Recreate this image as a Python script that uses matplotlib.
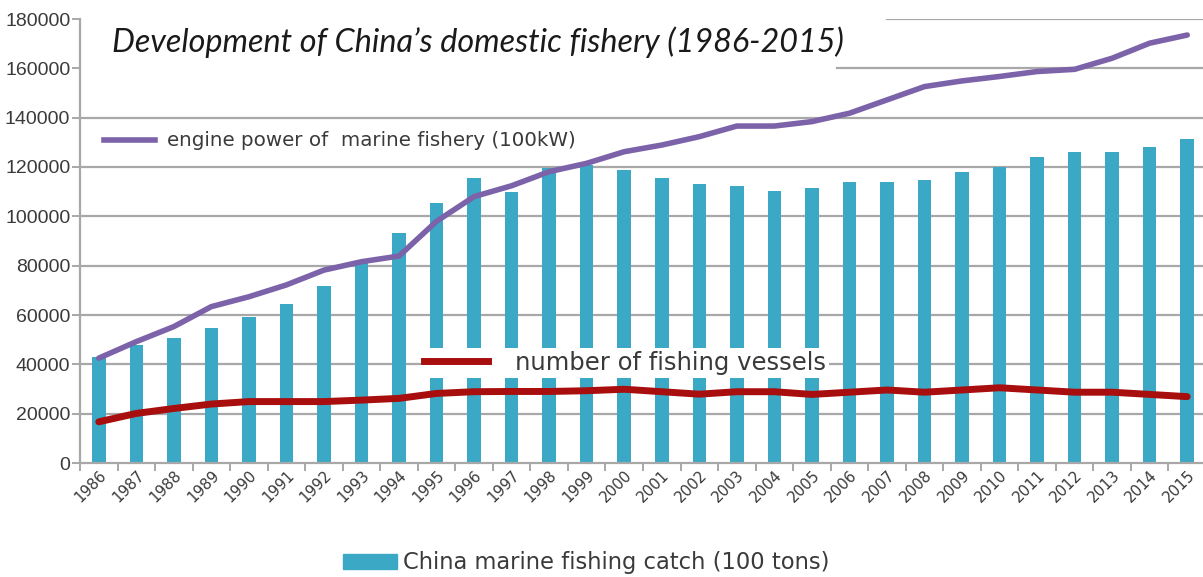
import matplotlib.pyplot as plt
from matplotlib.lines import Line2D
from matplotlib.patches import Patch
import numpy as np

# China domestic fishery, 1986-2015
years = [str(y) for y in range(1986, 2016)]

catch_100t = [43100, 48000, 50800, 54900, 59000, 64300, 71700, 80900, 93100, 105500,
              115400, 109700, 119500, 120800, 118800, 115400, 113100, 112400, 110400, 111400,
              113800, 113800, 114600, 117900, 120100, 123900, 126200, 126200, 128000, 131300]

engine_100kw = [42500, 49200, 55300, 63400, 67400, 72200, 78200, 81600, 83900, 98000,
                108000, 112400, 118100, 121500, 126200, 128900, 132300, 136600, 136600, 138400,
                141800, 147200, 152600, 154900, 156700, 158700, 159600, 164100, 170200, 173500]

vessels = [16700, 20100, 22100, 23900, 24900, 24900, 24900, 25500, 26200, 28200,
           28900, 29000, 29000, 29300, 29900, 28900, 27900, 28900, 28900, 27800,
           28700, 29600, 28700, 29600, 30500, 29600, 28700, 28700, 27800, 26900]

yticks = [0, 20000, 40000, 60000, 80000, 100000, 120000, 140000, 160000, 180000]

bar_color = '#3ba9c6'
engine_color = '#7b62a9'
vessel_color = '#a80e0e'
grid_color = '#a8a8a8'
text_color = '#3a3a3a'

W, H = 1203, 577
fig = plt.figure(figsize=(W / 100, H / 100), dpi=100)
ax = fig.add_axes([80 / W, 1 - 463 / H, 1126 / W, 444 / H])

x = np.arange(len(years))
ax.bar(x, catch_100t, width=0.36, color=bar_color, zorder=2)
ax.plot(x, engine_100kw, color=engine_color, lw=4, solid_capstyle='round', zorder=3)
ax.plot(x, vessels, color=vessel_color, lw=5, solid_capstyle='round', zorder=3)

ax.set_xlim(-0.5, len(years) - 0.5)
ax.set_ylim(0, 180000)

# horizontal grid; the two top lines are cut short behind the heading
grid_start = {160000: 0.672, 180000: 0.717}
for v in yticks[1:]:
    ax.axhline(v, xmin=grid_start.get(v, 0), xmax=1, color=grid_color, lw=1.6, zorder=1)

ax.set_yticks(yticks)
ax.set_yticklabels([str(v) for v in yticks], fontsize=14, color=text_color,
                   family=['Liberation Sans', 'DejaVu Sans'])
ax.tick_params(axis='y', length=6, width=1.4, color=grid_color, pad=1)

# category labels centred, tick marks on the category boundaries
ax.set_xticks(x)
ax.set_xticklabels(years, rotation=45, ha='right', rotation_mode='anchor',
                   fontsize=10.8, color=text_color)
ax.set_xticks(np.arange(-0.5, len(years), 1.0), minor=True)
ax.tick_params(axis='x', which='major', length=0, pad=3)
ax.tick_params(axis='x', which='minor', length=6, width=1.4, color=grid_color)

for side in ['top', 'right']:
    ax.spines[side].set_visible(False)
for side in ['left', 'bottom']:
    ax.spines[side].set_color(grid_color)
    ax.spines[side].set_linewidth(1.6)

# heading: narrow italic, sized so it runs from x=112 to about x=845
title = fig.text(112 / W, 1 - 52 / H, 'Development of China\u2019s domestic fishery (1986-2015)',
                 fontsize=25, style='italic', color='#1a1a1a', va='baseline', ha='left',
                 family=['Lato', 'DejaVu Sans'])
renderer = fig.canvas.get_renderer()
tw = title.get_window_extent(renderer).width
title.set_fontsize(25 * 733 / tw)

leg_engine = fig.legend(handles=[Line2D([], [], color=engine_color, lw=4)],
                        labels=['engine power of  marine fishery (100kW)'],
                        loc='center left', bbox_to_anchor=(104 / W, 1 - 141 / H),
                        frameon=False, fontsize=14.3, borderpad=0, borderaxespad=0,
                        handlelength=2.55, handletextpad=0.6, labelcolor=text_color)

leg_vessels = fig.legend(handles=[Line2D([], [], color=vessel_color, lw=5)],
                         labels=['number of fishing vessels'],
                         loc='center left', bbox_to_anchor=(421 / W, 1 - 363 / H),
                         frameon=True, fancybox=False, facecolor='white', edgecolor='none',
                         framealpha=1, fontsize=17.5, borderpad=0.12, borderaxespad=0,
                         handlelength=2.65, handletextpad=1.1, labelcolor=text_color)

leg_catch = fig.legend(handles=[Patch(color=bar_color)],
                       labels=['China marine fishing catch (100 tons)'],
                       loc='center left', bbox_to_anchor=(343 / W, 1 - 563 / H),
                       frameon=False, fontsize=16.3, borderpad=0, borderaxespad=0,
                       handlelength=2.4, handleheight=0.65, handletextpad=0.27,
                       labelcolor=text_color)

fig.savefig('out.png', dpi=100)
